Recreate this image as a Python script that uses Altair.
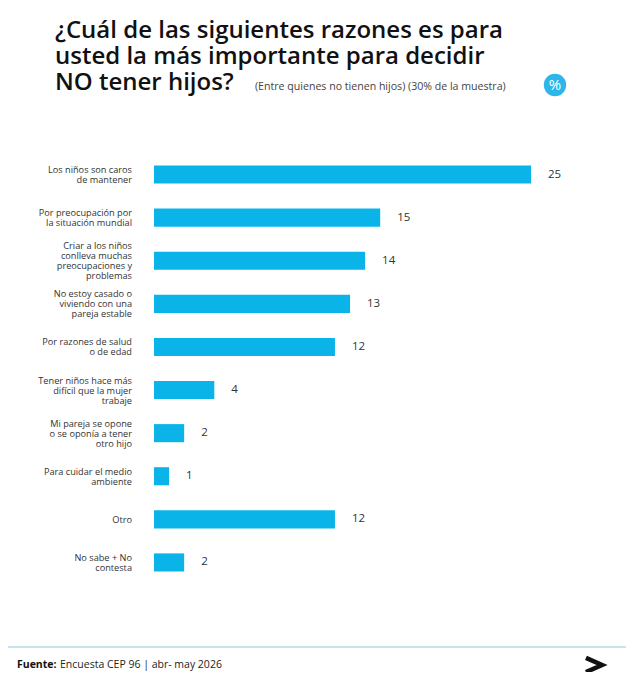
import altair as alt
import pandas as pd

labels = [
    "Los niños son caros\nde mantener",
    "Por preocupación por\nla situación mundial",
    "Criar a los niños\nconlleva muchas\npreocupaciones y\nproblemas",
    "No estoy casado o\nviviendo con una\npareja estable",
    "Por razones de salud\no de edad",
    "Tener niños hace más\ndifícil que la mujer\ntrabaje",
    "Mi pareja se opone\no se oponía a tener\notro hijo",
    "Para cuidar el medio\nambiente",
    "Otro",
    "No sabe + No\ncontesta",
]
values = [25, 15, 14, 13, 12, 4, 2, 1, 12, 2]

title_text = "¿Cuál de las siguientes razones es para\nusted la más importante para decidir\nNO tener hijos?"
subtitle_text = "(Entre quienes no tienen hijos) (30% de la muestra)"
source_bold = "Fuente:"
source_text = "Encuesta CEP 96 | abr- may 2026"

FONT = "Open Sans"
BAR = "#0bb4e8"
LH = 10
H = 431
P_IN, P_OUT = 0.58, 0.29

df = pd.DataFrame({"label": labels, "value": values})
# yOffset places text relative to band start: shift to band centre, then centre the line block
n = len(labels)
step = H / (n - P_IN + 2 * P_OUT)
half_band = step * (1 - P_IN) / 2
df["off"] = [half_band - l.count("\n") * LH / 2 + 0.5 for l in labels]

yenc = alt.Y("label:N", sort=None, axis=None,
             scale=alt.Scale(paddingInner=P_IN, paddingOuter=P_OUT))
xenc = alt.X("value:Q", axis=None, scale=alt.Scale(domain=[0, 25], nice=False))

base = alt.Chart(df)
bars = base.mark_bar(color=BAR).encode(x=xenc, y=yenc)
vals = base.mark_text(align="left", baseline="middle", dx=17, font=FONT,
                      fontSize=11.5, color="#333333").encode(x=xenc, y=yenc, text="value:Q")
labs = base.mark_text(align="right", baseline="middle", font=FONT, fontSize=9.2,
                      lineBreak="\n", lineHeight=LH, color="#333333").encode(
    x=alt.value(-22), y=yenc, yOffset=alt.YOffset("off:Q", scale=None), text="label:N")

def note(txt, **kw):
    return alt.Chart(pd.DataFrame({"t": [txt]})).mark_text(**kw).encode(text="t:N")

title = note(title_text, align="left", baseline="alphabetic", font=FONT, fontSize=24,
             fontWeight=600, lineBreak="\n", lineHeight=26, color="#111111").encode(
    x=alt.value(-99), y=alt.value(-115))
subtitle = note(subtitle_text, align="left", baseline="alphabetic", font=FONT, fontSize=10.6,
                color="#444444").encode(x=alt.value(101), y=alt.value(-63))
circle = alt.Chart(pd.DataFrame({"t": ["%"]})).mark_point(
    filled=True, size=500, color="#2cb6ea", opacity=1).encode(x=alt.value(401), y=alt.value(-68))
pct = note("%", align="center", baseline="middle", font=FONT, fontSize=15,
           color="white").encode(x=alt.value(401), y=alt.value(-68))
rule = alt.Chart(pd.DataFrame({"t": [0]})).mark_rule(color="#b5dbe6", strokeWidth=1.5).encode(
    x=alt.value(-146), x2=alt.value(472), y=alt.value(494))
src_b = note(source_bold, align="left", baseline="alphabetic", font=FONT, fontSize=10.5,
             fontWeight="bold", color="#111111").encode(x=alt.value(-137), y=alt.value(515))
src = note(source_text, align="left", baseline="alphabetic", font=FONT, fontSize=10.5,
           color="#222222").encode(x=alt.value(-94), y=alt.value(515))
chev = alt.Chart(pd.DataFrame({"t": [0]})).mark_point(
    shape="M-0.9,-0.8L0.9,0L-0.9,0.8", size=320, filled=False, strokeWidth=4.5,
    color="#111111", opacity=1, strokeJoin="miter").encode(x=alt.value(440), y=alt.value(512))

chart = alt.layer(bars, vals, labs, title, subtitle, circle, pct, rule, src_b, src, chev).properties(
    width=377, height=H, autosize="none",
    padding={"left": 146, "top": 145, "right": 95, "bottom": 88},
    background="white",
).configure_view(strokeWidth=0)

chart.save("out.html", embed_options={"renderer": "svg", "actions": False})
